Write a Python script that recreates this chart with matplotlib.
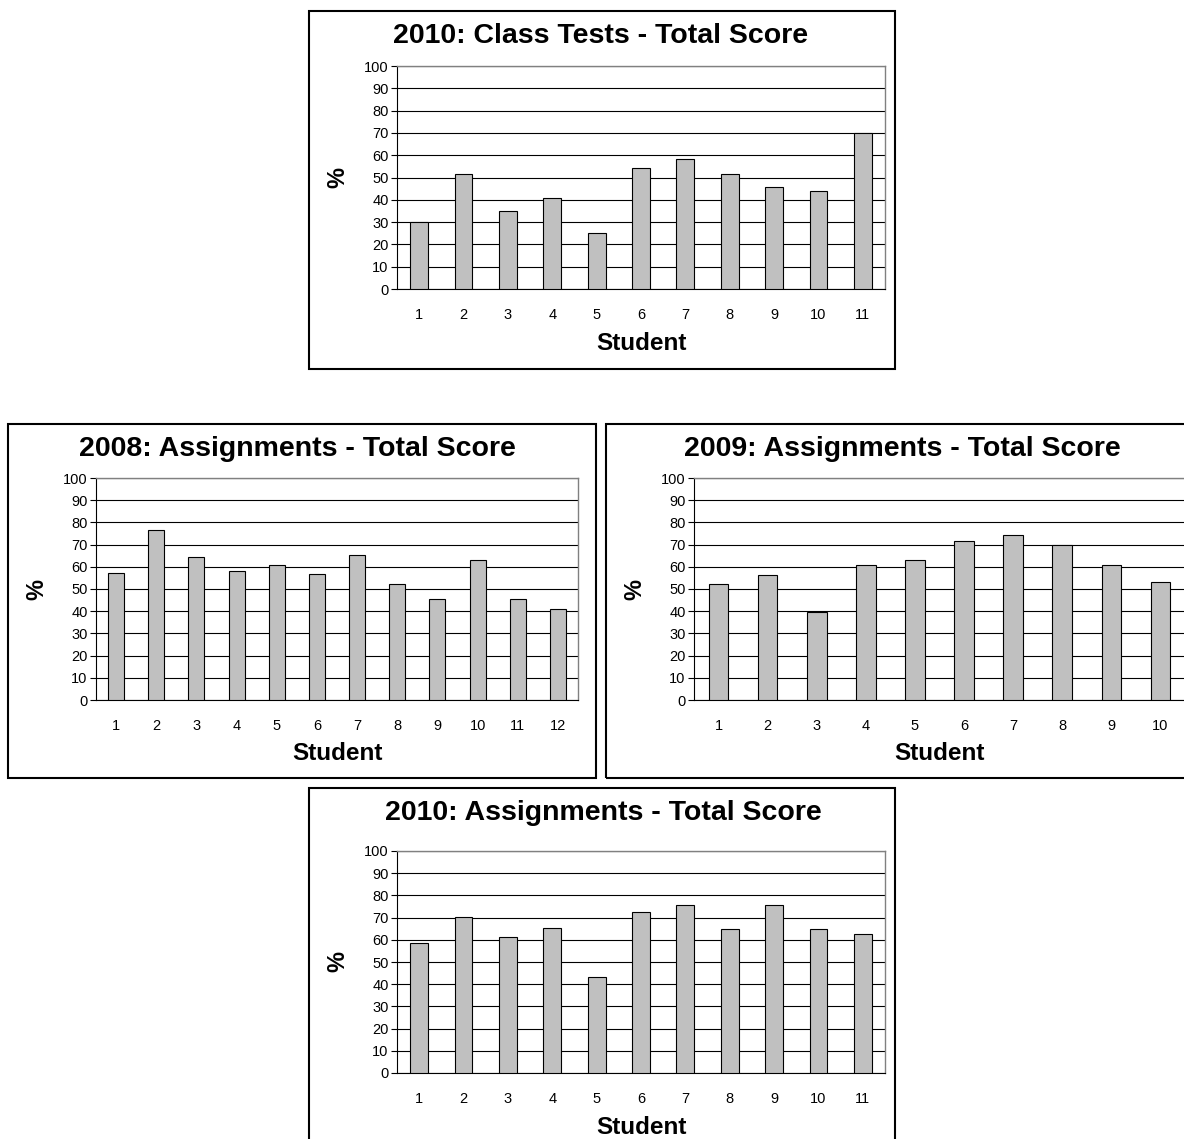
import matplotlib
matplotlib.use('Agg')
import matplotlib.pyplot as plt
from matplotlib.patches import Rectangle

W, H = 1184, 1139

plt.rcParams['font.family'] = ['Liberation Sans', 'DejaVu Sans']

# values
tests_2010 = [30, 51.5, 35, 40.8, 25, 54.3, 58.3, 51.5, 45.8, 44, 70]
assign_2008 = [57.4, 76.8, 64.3, 58.0, 61.0, 56.7, 65.1, 52.3, 45.7, 63.0, 45.3, 40.9]
assign_2009 = [52.3, 56.5, 39.6, 61.0, 63.0, 71.7, 74.5, 69.6, 61.0, 53.1]
assign_2010 = [58.7, 70.4, 61.4, 65.3, 43.3, 72.3, 75.9, 65.0, 75.9, 65.0, 62.6]

titles = ['2010: Class Tests - Total Score', '2008: Assignments - Total Score',
          '2009: Assignments - Total Score', '2010: Assignments - Total Score']
y_ticks = list(range(0, 101, 10))

BAR_COLOR = '#C0C0C0'


def fx(px):
    return px / W


def fy(py):
    return 1 - py / H


def draw_panel(fig, box, plot, title, values, title_x=None):
    bx0, by0, bx1, by1 = box
    fig.patches.append(Rectangle((fx(bx0), fy(by1)), fx(bx1 - bx0), (by1 - by0) / H,
                                 transform=fig.transFigure, fill=False,
                                 edgecolor='black', linewidth=1.5, zorder=0))
    px0, py0, px1, py1 = plot
    ax = fig.add_axes([fx(px0), fy(py1), fx(px1 - px0), (py1 - py0) / H])
    students = list(range(1, len(values) + 1))
    ax.bar(students, values, width=0.4, color=BAR_COLOR, edgecolor='black',
           linewidth=0.8, zorder=3)
    ax.set_xlim(0.5, len(values) + 0.5)
    ax.set_ylim(0, 100)
    ax.set_yticks(y_ticks)
    ax.set_xticks(students)
    ax.yaxis.grid(True, color='black', linewidth=0.8, zorder=0)
    ax.tick_params(axis='y', labelsize=10.5, length=4, width=0.8, pad=2)
    ax.tick_params(axis='x', labelsize=10.5, length=0, pad=14)
    for s in ('top', 'right'):
        ax.spines[s].set_color('#808080')
        ax.spines[s].set_linewidth(1.0)
    for s in ('left', 'bottom'):
        ax.spines[s].set_color('black')
        ax.spines[s].set_linewidth(0.8)
    if title_x is None:
        title_x = (bx0 + bx1) / 2
    fig.text(fx(title_x), fy(by0 + 25), title, ha='center', va='center',
             fontsize=20.5, fontweight='bold')
    fig.text(fx(bx0 + 29), fy((py0 + py1) / 2), '%', ha='center', va='center',
             rotation=90, fontsize=17, fontweight='bold')
    fig.text(fx((px0 + px1) / 2), fy(py1 + 54), 'Student',
             ha='center', va='center', fontsize=17.5, fontweight='bold')
    return ax


fig = plt.figure(figsize=(W / 100, H / 100), dpi=100)
fig.patch.set_facecolor('white')

draw_panel(fig, (309, 11, 895, 369), (397, 66, 885, 289), titles[0], tests_2010, 601)
draw_panel(fig, (8, 424, 596, 778), (96, 478, 578, 700), titles[1], assign_2008, 297)
draw_panel(fig, (606, 424, 1203, 778), (694, 478, 1185, 700), titles[2], assign_2009, 902)
draw_panel(fig, (309, 788, 895, 1145), (397, 851, 885, 1073), titles[3], assign_2010, 603)

fig.savefig('out.png', dpi=100, facecolor='white')
plt.close(fig)
